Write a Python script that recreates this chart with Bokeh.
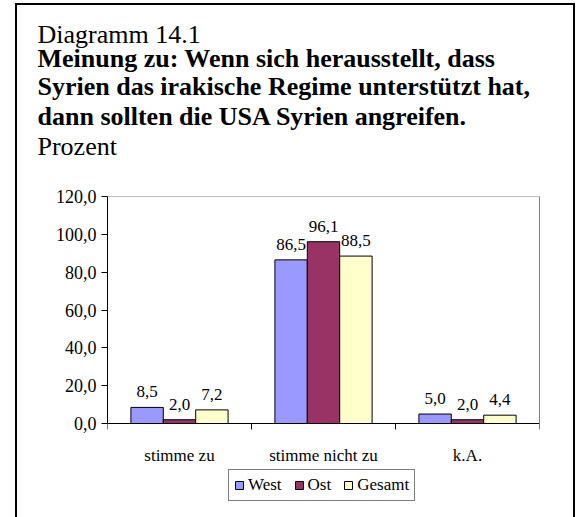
import math
from bokeh.plotting import figure
from bokeh.models import (ColumnDataSource, FixedTicker, LinearAxis, Range1d,
                          LabelSet, Legend, LegendItem, Title, Span)
from bokeh.embed import file_html
from bokeh.resources import INLINE
from bokeh.core.properties import value

# ---- data ----
categories = ["stimme zu", "stimme nicht zu", "k.A."]
series_names = ["West", "Ost", "Gesamt"]
west = [8.5, 86.5, 5.0]
ost = [2.0, 96.1, 2.0]
gesamt = [7.2, 88.5, 4.4]
y_ticks = [0, 20, 40, 60, 80, 100, 120]
y_tick_labels = ["0,0", "20,0", "40,0", "60,0", "80,0", "100,0", "120,0"]

title_line = "Diagramm 14.1"
bold_lines = ["Meinung zu: Wenn sich herausstellt, dass",
              "Syrien das irakische Regime unterstützt hat,",
              "dann sollten die USA Syrien angreifen."]
unit_line = "Prozent"

colors = ["#9999FF", "#993366", "#FFFFCC"]
FONT = "Liberation Serif"

n = len(categories)
centers = [i + 0.5 for i in range(n)]
bounds = list(range(n + 1))
y_min, y_max = y_ticks[0], y_ticks[-1]

# layout: plot area 432 x 227 px for 0..120; frame extended below for labels/legend
AREA_H = 227
FRAME_H = 314
y_start = y_max - FRAME_H * (y_max - y_min) / AREA_H

p = figure(width=556, height=512, output_backend="svg", toolbar_location=None,
           x_range=Range1d(0, n), y_range=Range1d(y_start, y_max),
           frame_width=432, frame_height=FRAME_H,
           min_border_left=90, min_border_right=34, min_border_top=191, min_border_bottom=7,
           x_axis_type=None, y_axis_type=None)
p.margin = (5, 0, 0, 17)
p.styles = {"box-shadow": "0 0 0 2px black"}
p.background_fill_color = "white"
p.border_fill_color = "white"
p.outline_line_color = None

# y axis (line limited to the value range)
yax = LinearAxis(ticker=FixedTicker(ticks=y_ticks), bounds=(y_min, y_max),
                 major_label_overrides={t: l for t, l in zip(y_ticks, y_tick_labels)})
yax.axis_line_color = "black"
yax.major_tick_line_color = "black"
yax.major_tick_out = 6
yax.major_tick_in = 0
yax.minor_tick_line_color = None
yax.major_label_text_font = FONT
yax.major_label_text_font_size = "18px"
yax.major_label_text_color = "black"
yax.major_label_standoff = 5
p.add_layout(yax, "left")

# right border of plot area (grey)
rax = LinearAxis(ticker=FixedTicker(ticks=[]), bounds=(y_min, y_max))
rax.axis_line_color = "#808080"
rax.major_tick_line_color = None
rax.minor_tick_line_color = None
rax.major_label_text_font_size = "1px"
p.add_layout(rax, "right")

# grid
p.ygrid.ticker = FixedTicker(ticks=y_ticks[1:-1])
p.ygrid.grid_line_color = "black"
p.ygrid.grid_line_width = 1
p.xgrid.grid_line_color = None
p.add_layout(Span(location=y_max, dimension="width", line_color="#808080", line_width=1))

# bars
bw = 0.225
offsets = [-bw, 0.0, bw]
items = []
for name, vals, off, col in zip(series_names, [west, ost, gesamt], offsets, colors):
    src = ColumnDataSource(dict(x=[c + off for c in centers], top=vals,
                                label=[f"{v:.1f}".replace(".", ",") for v in vals]))
    r = p.vbar(x="x", top="top", width=bw, bottom=y_min, source=src,
               fill_color=col, line_color="black", line_width=1)
    items.append(LegendItem(label=name, renderers=[r]))
    ls = LabelSet(x="x", y="top", text="label", source=src, text_align="center",
                  text_baseline="alphabetic", y_offset=10,
                  text_font=value(FONT), text_font_size="17px", text_color="black")
    p.add_layout(ls)

# category axis: base line, boundary ticks, labels
p.add_layout(Span(location=y_min, dimension="width", line_color="black", line_width=1))
p.ray(x=bounds, y=[y_min] * len(bounds), length=6, length_units="screen",
      angle=-math.pi / 2, line_color="black", line_width=1)
cat_src = ColumnDataSource(dict(x=centers, y=[y_min] * n, text=categories))
p.add_layout(LabelSet(x="x", y="y", text="text", source=cat_src, text_align="center",
                      text_baseline="middle", y_offset=-32,
                      text_font=value(FONT), text_font_size="17px", text_color="black"))

legend = Legend(items=items, location=(121, 9), orientation="horizontal")
legend.label_text_font = FONT
legend.label_text_font_size = "17px"
legend.label_text_color = "black"
legend.glyph_width = 10
legend.glyph_height = 10
legend.label_height = 18
legend.label_standoff = 4
legend.spacing = 12
legend.padding = 5
legend.margin = 0
legend.border_line_color = "black"
legend.border_line_width = 1
legend.background_fill_alpha = 1
p.add_layout(legend, "center")

# titles: added innermost first
def add_title(text, style, standoff):
    t = Title(text=text, align="left", offset=-70, text_font=FONT, text_font_size="26px",
              text_font_style=style, text_color="black", standoff=standoff)
    p.add_layout(t, "above")

add_title(" ", "normal", 5)          # spacer between "Prozent" and the plot
add_title(unit_line, "normal", -1)
add_title(bold_lines[2], "bold", -1)
add_title(bold_lines[1], "bold", -1)
add_title(bold_lines[0], "bold", -5)
add_title(title_line, "normal", -8)

open("out.html", "w").write(file_html(p, INLINE))
